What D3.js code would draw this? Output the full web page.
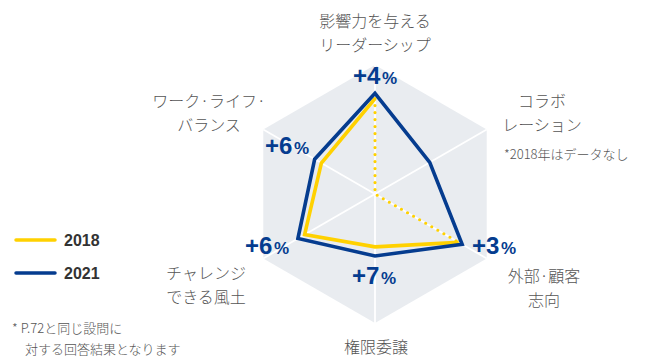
<!DOCTYPE html>
<html>
<head>
<meta charset="utf-8">
<script src="https://cdn.jsdelivr.net/npm/d3@7"></script>
<style>
  html, body { margin: 0; padding: 0; background: #fff; }
  svg { display: block; }
</style>
</head>
<body>
<svg id="chart" width="656" height="358"></svg>
<script>
// Axes, clockwise from the top
const categories = [
  ["影響力を与える", "リーダーシップ"],
  ["コラボ", "レーション"],
  ["外部·顧客", "志向"],
  ["権限委譲"],
  ["チャレンジ", "できる風土"],
  ["ワーク·ライフ·", "バランス"]
];
const years = ["2018", "2021"];
const values2018 = [74, null, 75, 41, 63, 48];   // no 2018 data for コラボレーション
const values2021 = [78, 49, 78, 48, 69, 54];
const noteNoData = "*2018年はデータなし";
const footnote = ["* P.72と同じ設問に", "対する回答結果となります"];

const svg = d3.select("#chart");
const cx = 375, cy = 194, R = 129;
const r = d3.scaleLinear().domain([0, 100]).range([0, R]);
const angle = i => (-90 + 60 * i) * Math.PI / 180;
const pt = (i, v) => [cx + r(v) * Math.cos(angle(i)), cy + r(v) * Math.sin(angle(i))];

const BLUE = "#053c8f", YELLOW = "#ffd100", GRID = "#e9ecf0", TEXT = "#555";
const JP = "'Noto Sans CJK JP', 'Noto Sans', sans-serif";
const LAT = "'Liberation Sans', Arial, sans-serif";

// background hexagon and spokes
const hex = categories.map((_, i) => pt(i, 100));
svg.append("polygon")
  .attr("points", hex.map(p => p.join(",")).join(" "))
  .attr("fill", GRID);
categories.forEach((_, i) => {
  const [x, y] = pt(i, 100);
  svg.append("line").attr("x1", cx).attr("y1", cy).attr("x2", x).attr("y2", y)
    .attr("stroke", "#fff").attr("stroke-width", 1.8);
});

const line = d3.line();

// 2018: solid where data exists, dotted through the centre for the missing axis
const solid2018 = [2, 3, 4, 5, 0].map(i => pt(i, values2018[i]));
const dotted2018 = [pt(0, values2018[0]), [cx, cy], pt(2, values2018[2])];
svg.append("path").attr("d", line(dotted2018))
  .attr("fill", "none").attr("stroke", YELLOW).attr("stroke-width", 3.2)
  .attr("stroke-linecap", "round").attr("stroke-dasharray", "0,7");
svg.append("path").attr("d", line(solid2018))
  .attr("fill", "none").attr("stroke", YELLOW).attr("stroke-width", 3.6)
  .attr("stroke-linejoin", "miter");

// 2021
svg.append("path").attr("d", line(values2021.map((v, i) => pt(i, v))) + "Z")
  .attr("fill", "none").attr("stroke", BLUE).attr("stroke-width", 3.6)
  .attr("stroke-linejoin", "miter");

// change labels (2021 vs 2018)
const diffPos = [[375, 84], null, [494, 254], [374, 284], [267, 254], [287, 154]];
values2021.forEach((v, i) => {
  if (values2018[i] == null) return;
  const d = v - values2018[i];
  const t = svg.append("text")
    .attr("x", diffPos[i][0]).attr("y", diffPos[i][1])
    .attr("text-anchor", "middle")
    .attr("fill", BLUE).attr("font-family", LAT).attr("font-weight", "bold");
  t.append("tspan").attr("font-size", 24).text("+" + d);
  t.append("tspan").attr("font-size", 17).attr("dx", 1.5).text("%");
});

// axis labels
const labelPos = [[375, 27], [542, 107], [544, 282], [376, 353], [206, 279], [209, 107]];
categories.forEach((lines, i) => {
  const t = svg.append("text")
    .attr("x", labelPos[i][0]).attr("y", labelPos[i][1])
    .attr("text-anchor", "middle").attr("fill", TEXT)
    .attr("font-family", JP).attr("font-weight", 300).attr("font-size", 16);
  lines.forEach((s, k) => {
    t.append("tspan").attr("x", labelPos[i][0]).attr("dy", k === 0 ? 0 : 23.5).text(s);
  });
});
svg.append("text").attr("x", 504).attr("y", 159)
  .attr("fill", TEXT).attr("font-family", JP).attr("font-weight", 300).attr("font-size", 13)
  .text(noteNoData);

// legend
const legendColors = [YELLOW, BLUE];
years.forEach((y, k) => {
  const yy = 240 + k * 33;
  svg.append("line").attr("x1", 16).attr("x2", 55).attr("y1", yy).attr("y2", yy)
    .attr("stroke", legendColors[k]).attr("stroke-width", 3.5).attr("stroke-linecap", "round");
  svg.append("text").attr("x", 64).attr("y", yy + 6)
    .attr("fill", "#333").attr("font-family", LAT).attr("font-weight", "bold")
    .attr("font-size", 16).text(y);
});

// footnote
footnote.forEach((s, k) => {
  svg.append("text").attr("x", k === 0 ? 12 : 25).attr("y", 333 + k * 21)
    .attr("fill", TEXT).attr("font-family", JP).attr("font-weight", 300).attr("font-size", 13).text(s);
});
</script>
</body>
</html>
